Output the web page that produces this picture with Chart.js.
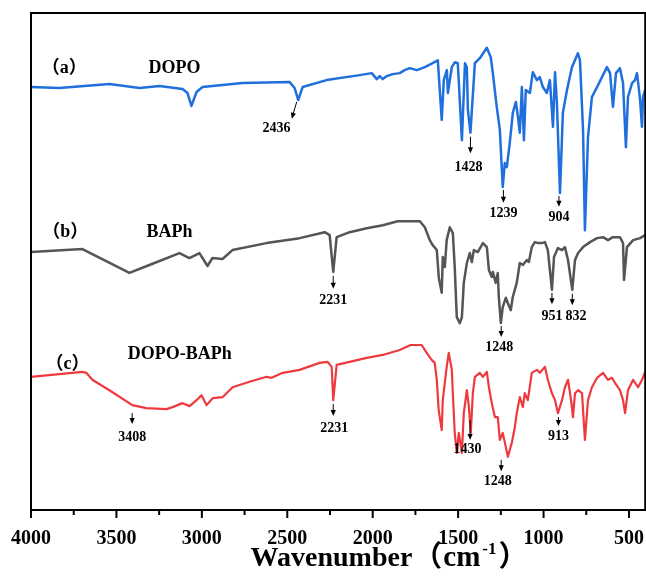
<!DOCTYPE html>
<html><head><meta charset="utf-8">
<script src="https://cdn.jsdelivr.net/npm/chart.js@4.4.1/dist/chart.umd.min.js"></script>
<style>html,body{margin:0;padding:0;background:#fff}#wrap{width:646px;height:588px}</style>
</head><body><div id="wrap"><canvas id="c" width="646" height="588"></canvas></div>
<script>
// ---- data (wavenumber cm-1, transmittance in arbitrary units) ----
const xTickLabels = [4000, 3500, 3000, 2500, 2000, 1500, 1000, 500];
const seriesNames = ['DOPO', 'BAPh', 'DOPO-BAPh'];
const seriesTags = ['（a）', '（b）', '（c）'];
const axisTitle = ['Wavenumber', '（', 'cm', '-1', '）'];

const dopoWave = [4000,3834,3541,3365,3248,3113,3084,3061,3031,2996,2762,2486,2457,2436,2410,2270,2076,2006,1976,1959,1941,1918,1883,1842,1813,1783,1742,1695,1649,1619,1596,1584,1566,1560,1537,1519,1502,1478,1460,1449,1443,1428,1402,1373,1332,1309,1297,1274,1256,1239,1227,1215,1198,1180,1162,1150,1139,1127,1115,1104,1080,1063,1039,1022,1004,981,963,945,933,922,904,887,863,834,799,787,769,758,740,717,687,658,629,611,594,576,553,535,518,506,482,465,453,435,424,418,406];
const dopoT = [85.1,84.9,85.7,84.9,85.3,84.7,83.9,81.3,84.1,85.1,85.9,86.1,84.9,82.5,85.1,86.5,87.5,87.9,86.7,87.3,86.7,87.3,87.7,87.9,88.5,88.9,88.5,89.1,89.9,90.5,78.5,86.5,88.5,83.9,89.1,90.1,89.9,74.4,89.9,89.1,80.5,75.9,89.9,90.9,93.0,91.1,87.9,81.1,76.5,65.0,69.8,69.0,73.8,79.9,82.1,79.1,75.9,85.1,74.4,84.5,83.9,88.1,86.5,87.1,85.1,83.9,86.5,77.1,88.1,81.9,63.8,79.9,84.5,89.1,91.9,90.5,76.5,56.3,75.0,83.1,85.1,87.1,89.1,87.9,81.1,87.9,88.9,85.9,73.0,83.1,85.9,86.5,87.9,82.5,77.1,83.1,84.5];

const baphWave = [4000,3699,3424,3307,3131,3073,3014,2967,2938,2879,2821,2622,2428,2281,2252,2231,2211,2135,2035,1941,1853,1724,1695,1666,1649,1625,1613,1596,1590,1578,1567,1549,1531,1520,1508,1490,1478,1467,1449,1432,1420,1408,1385,1355,1332,1320,1303,1297,1280,1268,1262,1250,1239,1221,1209,1192,1180,1157,1139,1121,1098,1086,1069,1051,1033,1010,992,975,951,939,916,892,875,857,832,816,798,769,728,687,652,623,594,553,535,529,512,476,435,406];
const baphT = [51.9,52.5,47.7,49.3,51.7,50.7,51.7,49.1,50.7,50.5,52.3,53.7,54.7,55.9,55.3,47.9,54.9,55.9,56.7,57.3,58.1,58.1,56.9,54.3,53.3,52.3,46.7,43.7,50.9,48.9,54.3,56.9,55.7,48.9,38.8,37.6,38.8,45.7,49.7,51.7,49.9,52.3,51.9,53.7,52.9,48.3,46.9,47.9,45.7,47.7,42.9,37.6,40.8,42.7,41.6,40.2,42.9,45.7,49.7,49.3,50.3,49.9,52.9,53.9,53.7,53.7,53.9,52.3,44.3,50.9,52.7,52.3,52.9,50.3,44.3,50.3,51.7,52.9,53.9,54.7,54.9,54.3,54.9,54.9,53.7,46.3,52.9,54.3,54.7,55.3];

const dopoBaphWave = [4000,3699,3676,3641,3541,3407,3325,3207,3172,3113,3072,3031,3002,2972,2937,2879,2820,2721,2621,2592,2527,2428,2311,2264,2240,2231,2211,2135,2035,1941,1842,1778,1714,1684,1655,1637,1625,1614,1596,1590,1567,1555,1537,1531,1520,1508,1496,1478,1467,1449,1437,1426,1414,1402,1373,1355,1332,1320,1303,1285,1268,1256,1239,1221,1209,1186,1168,1157,1139,1121,1110,1092,1069,1039,1022,992,975,951,933,916,892,875,857,839,828,816,798,775,758,740,717,687,652,623,600,582,553,535,523,506,476,447,424,406];
const dopoBaphT = [26.8,27.8,27.6,26.2,24.1,21.1,20.5,20.3,20.7,21.5,20.9,22.1,23.1,21.1,22.5,22.7,24.7,25.8,26.8,26.6,27.6,28.2,29.6,29.8,28.8,22.1,29.2,29.8,30.6,31.2,32.2,33.2,33.2,31.6,30.2,29.6,26.2,20.1,16.1,22.1,28.8,31.6,28.2,23.5,15.5,11.5,15.5,11.5,19.5,24.1,20.7,15.5,23.5,26.8,27.6,26.8,27.8,24.7,21.5,18.7,18.7,14.1,15.5,12.7,10.7,13.5,16.7,19.5,22.7,20.7,23.5,22.1,27.6,28.2,27.6,28.8,26.2,23.5,22.1,19.5,22.1,24.7,26.2,22.1,18.7,23.5,24.1,23.5,14.1,22.1,24.7,26.6,27.6,26.2,26.6,25.6,24.1,22.1,19.5,24.1,26.2,24.7,26.2,27.8];

// peak annotations: label, arrow start/end (wavenumber, T), label position
const peakLabels = ['2436','1428','1239','904','2231','1248','951','832','3408','2231','1430','1248','913'];
const arrowFrom = [[2445,82.1],[1428,75.1],[1235,64.4],[910,63.2],[2231,47.1],[1248,37.0],[951,43.7],[832,43.5],[3408,19.5],[2231,21.3],[1430,18.1],[1248,10.1],[913,18.7]];
const arrowTo   = [[2474,78.7],[1428,71.8],[1235,61.8],[910,61.0],[2231,44.5],[1248,34.8],[951,41.4],[832,41.2],[3408,17.3],[2231,18.9],[1430,14.1],[1248,7.8],[913,16.9]];
const labelAt   = [[2563,76.7],[1440,69.0],[1235,59.6],[910,58.8],[2231,42.1],[1260,32.8],[951,39.0],[810,39.0],[3408,14.7],[2225,16.5],[1445,12.1],[1268,5.8],[913,14.9]];
const tagAt  = [[3805,88.9],[3799,55.9],[3787,29.4]];
const nameAt = [[3160,88.9],[3189,55.9],[3130,31.4]];

const colors = ['#1f6fdc','#555555','#ee3a3f'];
const SERIF = '"Liberation Serif", "Times New Roman", serif';
const CJK = '"Noto Sans CJK SC"';

function pts(w, t){ return w.map((v,i)=>({x:v, y:t[i]})); }

const marks = {
  id: 'marks',
  afterDatasetsDraw(chart){
    const {ctx, chartArea:a, scales:{x,y}} = chart;
    ctx.save();
    ctx.strokeStyle = '#000'; ctx.lineWidth = 2;
    ctx.strokeRect(a.left, a.top, a.right-a.left, a.bottom-a.top);
    x.ticks.forEach(t=>{
      const px = x.getPixelForValue(t.value);
      const len = (t.value % 500 === 0) ? 8 : 5;
      ctx.beginPath(); ctx.moveTo(px, a.bottom); ctx.lineTo(px, a.bottom+len); ctx.stroke();
    });
    ctx.lineWidth = 1; ctx.fillStyle = '#000';
    for (let i=0;i<peakLabels.length;i++){
      const x1=x.getPixelForValue(arrowFrom[i][0]), y1=y.getPixelForValue(arrowFrom[i][1]);
      const x2=x.getPixelForValue(arrowTo[i][0]), y2=y.getPixelForValue(arrowTo[i][1]);
      const ang=Math.atan2(y2-y1,x2-x1), L=6, W=2.6;
      ctx.beginPath(); ctx.moveTo(x1,y1); ctx.lineTo(x2-Math.cos(ang)*L*0.8,y2-Math.sin(ang)*L*0.8); ctx.stroke();
      ctx.beginPath(); ctx.moveTo(x2,y2);
      ctx.lineTo(x2-Math.cos(ang)*L - Math.sin(ang)*W, y2-Math.sin(ang)*L + Math.cos(ang)*W);
      ctx.lineTo(x2-Math.cos(ang)*L + Math.sin(ang)*W, y2-Math.sin(ang)*L - Math.cos(ang)*W);
      ctx.closePath(); ctx.fill();
      ctx.font = 'bold 14px ' + SERIF; ctx.textAlign='center'; ctx.textBaseline='middle';
      ctx.fillText(peakLabels[i], x.getPixelForValue(labelAt[i][0]), y.getPixelForValue(labelAt[i][1]));
    }
    for (let i=0;i<3;i++){
      ctx.font = 'bold 18px ' + SERIF + ', ' + CJK;
      ctx.textAlign='center'; ctx.textBaseline='middle';
      ctx.fillText(seriesTags[i], x.getPixelForValue(tagAt[i][0]), y.getPixelForValue(tagAt[i][1]));
      ctx.fillText(seriesNames[i], x.getPixelForValue(nameAt[i][0]), y.getPixelForValue(nameAt[i][1]));
    }
    // axis title: Wavenumber（cm-1）
    ctx.textAlign='left'; ctx.textBaseline='alphabetic';
    let tx = x.getPixelForValue(2715);
    const base = a.bottom + 56;
    const parts = [
      [axisTitle[0], 'bold 28px ' + SERIF, 0, 1],
      [axisTitle[1], 'bold 29px ' + CJK, 0, 1],
      [axisTitle[2], 'bold 29px ' + SERIF, 0, 2],
      [axisTitle[3], 'bold 17px ' + SERIF, -12, 2],
      [axisTitle[4], 'bold 29px ' + CJK, 0, 0]
    ];
    parts.forEach(([s, f, dy, gap])=>{
      ctx.font = f; ctx.fillText(s, tx, base + dy); tx += ctx.measureText(s).width + gap;
    });
    ctx.restore();
  }
};

new Chart(document.getElementById('c'), {
  type: 'line',
  data: { datasets: [
    {label: seriesNames[0], data: pts(dopoWave, dopoT), borderColor: colors[0], borderWidth: 2.5},
    {label: seriesNames[1], data: pts(baphWave, baphT), borderColor: colors[1], borderWidth: 2.5},
    {label: seriesNames[2], data: pts(dopoBaphWave, dopoBaphT), borderColor: colors[2], borderWidth: 2.2}
  ]},
  options: {
    responsive: false, animation: false, devicePixelRatio: 1,
    elements: { point: {radius: 0}, line: {tension: 0, borderJoinStyle: 'round'} },
    layout: { padding: {left: 31, right: 0, top: 13, bottom: 35} },
    plugins: { legend: {display: false}, tooltip: {enabled: false} },
    scales: {
      x: { type: 'linear', reverse: true, min: 405, max: 4000,
        border: {display: false},
        grid: { display: true, drawOnChartArea: false, drawTicks: true, tickLength: 15, tickColor: 'rgba(0,0,0,0)' },
        ticks: { stepSize: 250, autoSkip: false, maxRotation: 0, includeBounds: false, padding: 2, color: '#000',
          font: {family: SERIF, weight: 'bold', size: 20},
          callback: v => xTickLabels.includes(v) ? String(v) : '' },
        title: { display: false }
      },
      y: { display: false, min: 0, max: 100 }
    }
  },
  plugins: [marks]
});
</script></body></html>
